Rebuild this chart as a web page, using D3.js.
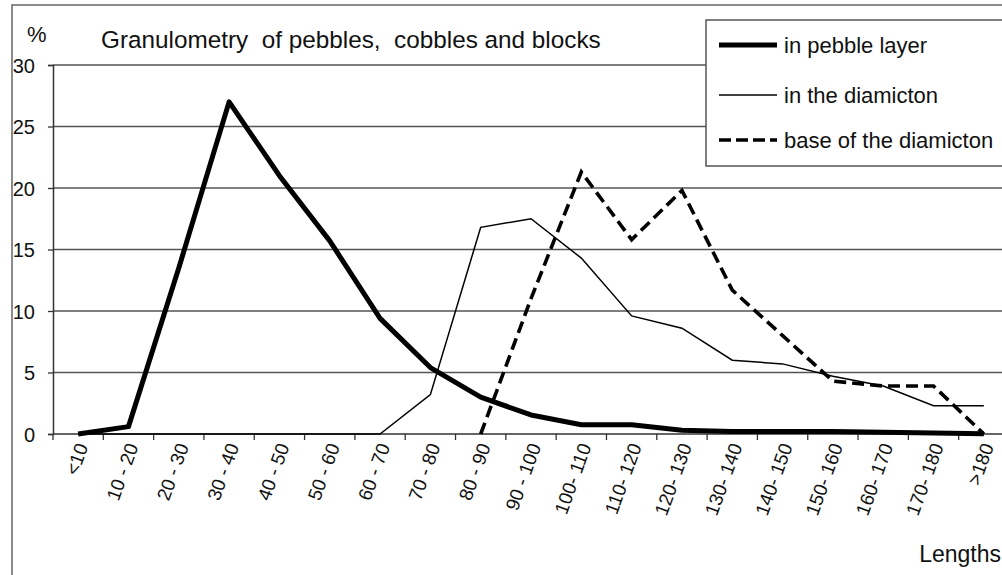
<!DOCTYPE html>
<html>
<head>
<meta charset="utf-8">
<script src="https://cdn.jsdelivr.net/npm/d3@7"></script>
<style>
  html, body { margin: 0; padding: 0; background: #fff; }
  svg text { font-family: "Liberation Sans", Arial, sans-serif; fill: #111; }
</style>
</head>
<body>
<svg id="chart" width="1002" height="575"></svg>
<script>
// ---- data ----
const categories = ["<10", "10 - 20", "20 - 30", "30 - 40", "40 - 50", "50 - 60", "60 - 70", "70 - 80", "80 - 90",
  "90 - 100", "100- 110", "110- 120", "120- 130", "130- 140", "140- 150", "150- 160", "160- 170", "170- 180", ">180"];
const pebbleLayer = [0, 0.6, 13.5, 27, 21, 15.7, 9.4, 5.4, 3.0, 1.55, 0.75, 0.75, 0.3, 0.2, 0.2, 0.2, 0.15, 0.08, 0.02];
const inDiamicton = [0, 0, 0, 0, 0, 0, 0, 3.2, 16.8, 17.5, 14.3, 9.6, 8.6, 6.0, 5.7, 4.7, 3.9, 2.3, 2.3];
const baseDiamicton = [null, null, null, null, null, null, null, null, 0, 11, 21.3, 15.8, 19.8, 11.7, 8.0, 4.3, 3.9, 3.9, 0];
const yTicks = [0, 5, 10, 15, 20, 25, 30];
const seriesNames = ["in pebble layer", "in the diamicton", "base of the diamicton"];
const titleText = "Granulometry  of pebbles,  cobbles and blocks";

// ---- layout ----
const svg = d3.select("#chart");
const pLeft = 53, pTop = 65, pBottom = 434, pRight = 1009;

const x = d3.scaleBand().domain(categories).range([pLeft, pRight]).paddingInner(0).paddingOuter(0);
const y = d3.scaleLinear().domain([0, 30]).range([pBottom, pTop]);

// outer frame
svg.append("rect").attr("x", 12).attr("y", 5).attr("width", 1100).attr("height", 700)
  .attr("fill", "none").attr("stroke", "#666").attr("stroke-width", 1.5);

// gridlines
svg.append("g").selectAll("line").data(yTicks.filter(d => d > 0)).join("line")
  .attr("x1", pLeft).attr("x2", pRight).attr("y1", d => y(d)).attr("y2", d => y(d))
  .attr("stroke", "#555").attr("stroke-width", 1.3);

// y axis
const yAxis = svg.append("g").attr("transform", `translate(${pLeft},0)`)
  .call(d3.axisLeft(y).tickValues(yTicks).tickSize(5).tickPadding(13));
yAxis.select(".domain").attr("stroke", "#333").attr("stroke-width", 1.5);
yAxis.selectAll(".tick line").attr("stroke", "#333").attr("stroke-width", 1.3);
yAxis.selectAll(".tick text").attr("font-size", 20).attr("fill", "#111")
  .attr("font-family", "Liberation Sans, Arial, sans-serif").attr("dy", "0.36em");

// x axis line and ticks at band edges
const edges = categories.map(c => x(c)).concat([x(categories[categories.length - 1]) + x.bandwidth()]);
svg.append("line").attr("x1", pLeft).attr("x2", pRight).attr("y1", pBottom).attr("y2", pBottom)
  .attr("stroke", "#333").attr("stroke-width", 1.5);
svg.append("g").selectAll("line").data(edges).join("line")
  .attr("x1", d => d).attr("x2", d => d).attr("y1", pBottom).attr("y2", pBottom + 6)
  .attr("stroke", "#333").attr("stroke-width", 1.3);

// x labels
svg.append("g").selectAll("text").data(categories).join("text")
  .attr("transform", d => `translate(${x(d) + x.bandwidth() / 2 + 4},${pBottom + 10}) rotate(-70)`)
  .attr("text-anchor", "end").attr("dy", "0.35em").attr("font-size", 19)
  .text(d => d);

// lines
const cx = (d, i) => x(categories[i]) + x.bandwidth() / 2;
const mkLine = () => d3.line().defined(d => d !== null).x((d, i) => cx(d, i)).y(d => y(d));

svg.append("path").datum(inDiamicton).attr("d", mkLine())
  .attr("fill", "none").attr("stroke", "#000").attr("stroke-width", 1.5).attr("stroke-linejoin", "miter");
svg.append("path").datum(baseDiamicton).attr("d", mkLine())
  .attr("fill", "none").attr("stroke", "#000").attr("stroke-width", 3.6).attr("stroke-dasharray", "12,6");
svg.append("path").datum(pebbleLayer).attr("d", mkLine())
  .attr("fill", "none").attr("stroke", "#000").attr("stroke-width", 5).attr("stroke-linejoin", "round");

// legend
const lg = svg.append("g");
lg.append("rect").attr("x", 706).attr("y", 20).attr("width", 400).attr("height", 146)
  .attr("fill", "#fff").attr("stroke", "#555").attr("stroke-width", 1.5);
const legendStyles = [
  { w: 5, dash: null },
  { w: 1.5, dash: null },
  { w: 3.6, dash: "12,5" }
];
const rowY = [45, 95, 140];
seriesNames.forEach((name, i) => {
  lg.append("line").attr("x1", 719).attr("x2", 777).attr("y1", rowY[i]).attr("y2", rowY[i])
    .attr("stroke", "#000").attr("stroke-width", legendStyles[i].w)
    .attr("stroke-dasharray", legendStyles[i].dash);
  lg.append("text").attr("x", 784).attr("y", rowY[i]).attr("dy", "0.35em")
    .attr("font-size", 22).text(name);
});

// title and labels
svg.append("text").attr("x", 101).attr("y", 48).attr("font-size", 24.3)
  .attr("xml:space", "preserve").style("white-space", "pre").text(titleText);
svg.append("text").attr("x", 27).attr("y", 42).attr("font-size", 22).text("%");
svg.append("text").attr("x", 1001).attr("y", 562).attr("text-anchor", "end").attr("font-size", 23).text("Lengths");
</script>
</body>
</html>
